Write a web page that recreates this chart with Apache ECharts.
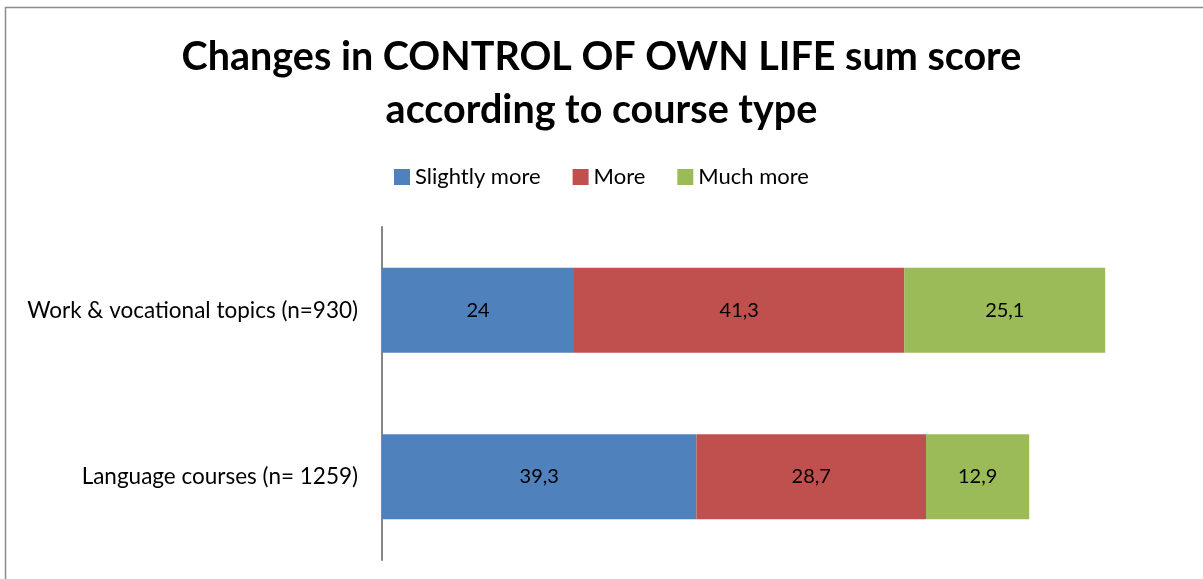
<!DOCTYPE html>
<html><head><meta charset="utf-8">
<script src="https://cdn.jsdelivr.net/npm/echarts@6/dist/echarts.min.js"></script>
<style>html,body{margin:0;padding:0;background:#fff}#c{width:1203px;height:579px}</style>
</head><body><div id="c"></div>
<script>
const categories = ['Language courses (n= 1259)', 'Work & vocational topics (n=930)'];
const seriesNames = ['Slightly more', 'More', 'Much more'];
const slightlyMore = [39.3, 24];
const more = [28.7, 41.3];
const muchMore = [12.9, 25.1];
const colors = ['#4f81bd', '#c0504d', '#9bbb59'];
const FONT = 'Lato';

const chart = echarts.init(document.getElementById('c'));
const mk = (name, data, i) => ({
  name, type: 'bar', stack: 'total', data, barWidth: 85,
  itemStyle: { color: colors[i] },
  label: { show: true, position: 'inside', color: '#000', fontFamily: FONT, fontSize: 20,
    formatter: p => String(p.value).replace('.', ',') }
});
chart.setOption({
  animation: false,
  title: {
    text: 'Changes in CONTROL OF OWN LIFE sum score\naccording to course type',
    left: 'center', top: 26,
    textStyle: { fontFamily: FONT, fontWeight: 'bold', fontSize: 39.5, lineHeight: 53, color: '#000' }
  },
  legend: {
    top: 161, left: 'center', itemWidth: 16, itemHeight: 16, itemGap: 32,
    icon: 'rect',
    textStyle: { fontFamily: FONT, fontSize: 22, color: '#000' },
    data: seriesNames
  },
  grid: { left: 382, top: 227, width: 800, height: 333 },
  xAxis: { type: 'value', min: 0, max: 100, show: false },
  yAxis: {
    type: 'category', data: categories,
    axisLine: { show: true, lineStyle: { color: '#868686', width: 2 } },
    axisTick: { show: false },
    axisLabel: { fontFamily: FONT, fontSize: 22.5, color: '#000', margin: 24 }
  },
  series: [mk(seriesNames[0], slightlyMore, 0), mk(seriesNames[1], more, 1), mk(seriesNames[2], muchMore, 2)],
  graphic: [{
    type: 'rect', shape: { x: 5.5, y: 7.5, width: 1300, height: 700 },
    style: { fill: 'none', stroke: '#8c8c8c', lineWidth: 1.5 }, silent: true
  }]
});
</script></body></html>
